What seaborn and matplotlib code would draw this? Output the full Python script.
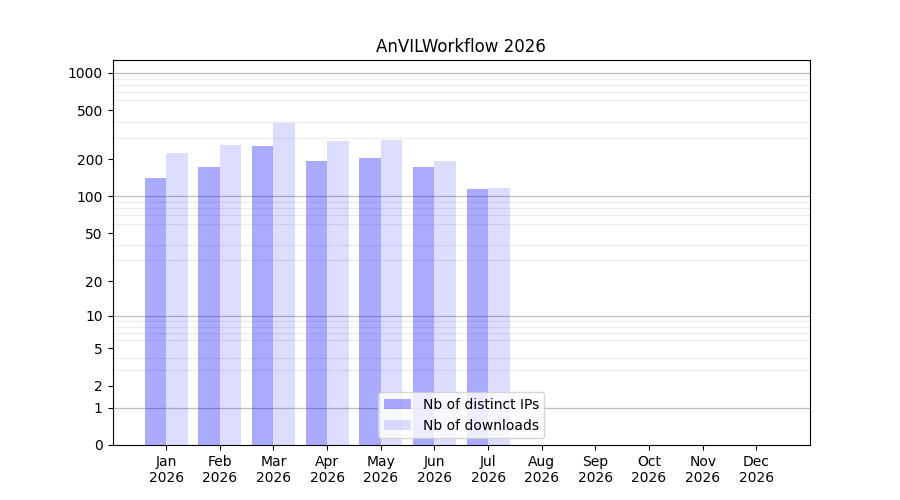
import numpy as np
import pandas as pd
import matplotlib
matplotlib.use("Agg")
import matplotlib.pyplot as plt
from matplotlib.patches import Patch
import seaborn as sns

title = "AnVILWorkflow 2026"
months = ["Jan\n2026", "Feb\n2026", "Mar\n2026", "Apr\n2026", "May\n2026", "Jun\n2026",
          "Jul\n2026", "Aug\n2026", "Sep\n2026", "Oct\n2026", "Nov\n2026", "Dec\n2026"]
data_months = months[:7]
distinct_ips = [140, 172, 255, 193, 204, 172, 114]
downloads = [224, 260, 392, 280, 285, 193, 118]
series_names = ["Nb of distinct IPs", "Nb of downloads"]
ytick_vals = [0, 1, 2, 5, 10, 20, 50, 100, 200, 500, 1000]
major_grid = [1, 10, 100, 1000]
minor_grid = [2, 3, 4, 5, 6, 7, 8, 9, 20, 30, 40, 50, 60, 70, 80, 90,
              200, 300, 400, 500, 600, 700, 800, 900]

df = pd.DataFrame({
    "month": data_months * 2,
    "value": distinct_ips + downloads,
    "series": [series_names[0]] * len(data_months) + [series_names[1]] * len(data_months),
})

fig, ax = plt.subplots(figsize=(9, 5), dpi=100)


def fwd(y):
    y = np.asarray(y, dtype=float)
    return np.log10(1 + np.clip(y, 0, None))


def inv(y):
    return 10 ** np.asarray(y, dtype=float) - 1


sns.barplot(data=df, x="month", y="value", hue="series", order=months,
            hue_order=series_names, palette=["blue", "blue"], saturation=1,
            width=0.8, linewidth=0, legend=False, ax=ax)

alphas = [0.333, 0.133]
for cont, a in zip(ax.containers, alphas):
    for p in cont:
        p.set_facecolor((0, 0, 1, a))
        p.set_edgecolor("none")

ax.set_yscale("function", functions=(fwd, inv))
ax.set_ylim(0, 1270)
ax.set_xlim(-1, 12)
ax.set_yticks(ytick_vals)
ax.set_yticklabels([str(v) for v in ytick_vals])
ax.set_yticks(minor_grid, minor=True)
ax.tick_params(axis="y", which="minor", length=0)
ax.grid(False)
ax.grid(which="minor", axis="y", color="#ececec", linewidth=0.8)
for v in major_grid:
    ax.axhline(v, color="#bdbdbd", linewidth=0.9, zorder=0.5)
ax.set_axisbelow(True)

ax.set_xlabel("")
ax.set_ylabel("")
ax.set_title(title)

handles = [Patch(facecolor=(0, 0, 1, a), edgecolor="none", label=n)
           for a, n in zip(alphas, series_names)]
ax.legend(handles=handles, loc="lower center")

fig.subplots_adjust(left=0.125, right=0.9, top=0.88, bottom=0.11)
fig.savefig("out.png", dpi=100)
